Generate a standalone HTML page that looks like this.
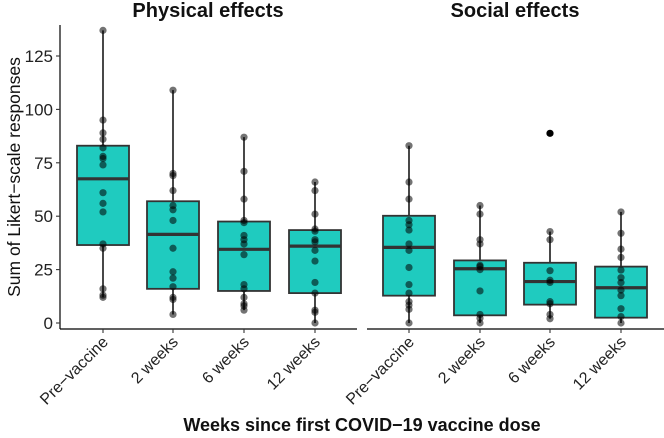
<!DOCTYPE html>
<html><head><meta charset="utf-8"><style>
body{margin:0;background:#fff}
svg{display:block;font-family:"Liberation Sans",sans-serif}
</style></head><body>
<svg id="c" width="664" height="438"></svg>
<script>
const categories=["Pre\u2212vaccine","2 weeks","6 weeks","12 weeks"];
const panels=["Physical effects","Social effects"];
const yTicks=[0,25,50,75,100,125];
// [q1, median, q3, whiskerLow, whiskerHigh]
const physicalBoxes=[[36.5,67.5,83,12,137],[16,41.5,57,4,109],[15,34.5,47.5,6,87],[14,36,43.5,0,66]];
const socialBoxes=[[12.8,35.4,50.2,0,83],[3.6,25.4,29.3,0,55],[8.6,19.4,28.2,2,42.8],[2.5,16.5,26.4,0,52]];
const physicalPoints=[
[137,95,89,86,82,78,77,74,61,56,52,37,35,16,13,12],
[109,70,69,62,55,53,48,35,24,21,17,12,11,4],
[87,71,58,48,47,41,39,37,32,18,16,12,9,8,6],
[66,62,51,44,43,39,38,34,29,19,14,6,5,0]];
const socialPoints=[
[83,66,58,48,46,43.5,37,34,26,18,14,10,8.4,6.4,0],
[55,51,39,37,27,26.4,25,15,4,2.2,0],
[42.8,39,24.5,20,19,10,9,4,2],
[52,42,34.6,30.7,24.8,21.2,18.9,15.4,12.8,6.7,3,0]];
const socialOutliers=[null,null,88.8,null];

const NS="http://www.w3.org/2000/svg";
const svg=document.getElementById("c");
function mk(t,a,p){const e=document.createElementNS(NS,t);for(const k in a)e.setAttribute(k,a[k]);(p||svg).appendChild(e);return e;}
const y=v=>323-v*2.136;
const panelX=[[60,357],[367,664]];
const centers=[[103,173,244,315],[409,480,550,621]];
const titleX=[208,515];
const hw=26;

const ya=mk("g",{});
mk("line",{x1:60,x2:60,y1:25,y2:329,stroke:"#000","stroke-width":1.2},ya);
yTicks.forEach(t=>{
 mk("line",{x1:56,x2:60,y1:y(t),y2:y(t),stroke:"#333","stroke-width":1.1},ya);
 const tx=mk("text",{x:53,y:y(t)+6,"text-anchor":"end","font-size":17,fill:"#222"},ya);tx.textContent=t;
 
});
const yt=mk("text",{x:0,y:0,transform:"translate(20,177) rotate(-90)","text-anchor":"middle","font-size":17.5,fill:"#111"});
yt.textContent="Sum of Likert\u2212scale responses";


const xt=mk("text",{x:362,y:431,"text-anchor":"middle","font-size":18,"font-weight":"bold",fill:"#111"});
xt.textContent="Weeks since first COVID\u221219 vaccine dose";


[physicalBoxes,socialBoxes].forEach((boxes,p)=>{
 const pts=p?socialPoints:physicalPoints;
 const g=mk("g",{});
 const ti=mk("text",{x:titleX[p],y:17,"text-anchor":"middle","font-size":20,"font-weight":"bold",fill:"#111"},g);
 ti.textContent=panels[p];
 mk("line",{x1:panelX[p][0],x2:panelX[p][1],y1:329,y2:329,stroke:"#000","stroke-width":1.2},g);
 boxes.forEach((b,i)=>{
  const cx=centers[p][i];
  const bg=mk("g",{},g);
  mk("line",{x1:cx,x2:cx,y1:y(b[4]),y2:y(b[3]),stroke:"#333","stroke-width":1.8},bg);
  mk("rect",{x:cx-hw,y:y(b[2]),width:hw*2,height:y(b[0])-y(b[2]),fill:"#1fcbbf",stroke:"#333","stroke-width":1.8},bg);
  mk("line",{x1:cx-hw,x2:cx+hw,y1:y(b[1]),y2:y(b[1]),stroke:"#333","stroke-width":3.2},bg);
  pts[i].forEach(v=>{const c=mk("circle",{cx:cx,cy:y(v),r:3.6,fill:"#000","fill-opacity":0.55},bg);
   });
  if(p&&socialOutliers[i]!=null){const o=mk("circle",{cx:cx,cy:y(socialOutliers[i]),r:3.6,fill:"#000"},bg);
   }
  mk("line",{x1:cx,x2:cx,y1:329,y2:333,stroke:"#333","stroke-width":1.1},g);
  const lb=mk("text",{x:0,y:0,transform:`translate(${cx+6},${343}) rotate(-45)`,"text-anchor":"end","font-size":16,fill:"#222"},g);
  lb.textContent=categories[i];
 });
});
</script>
</body></html>
